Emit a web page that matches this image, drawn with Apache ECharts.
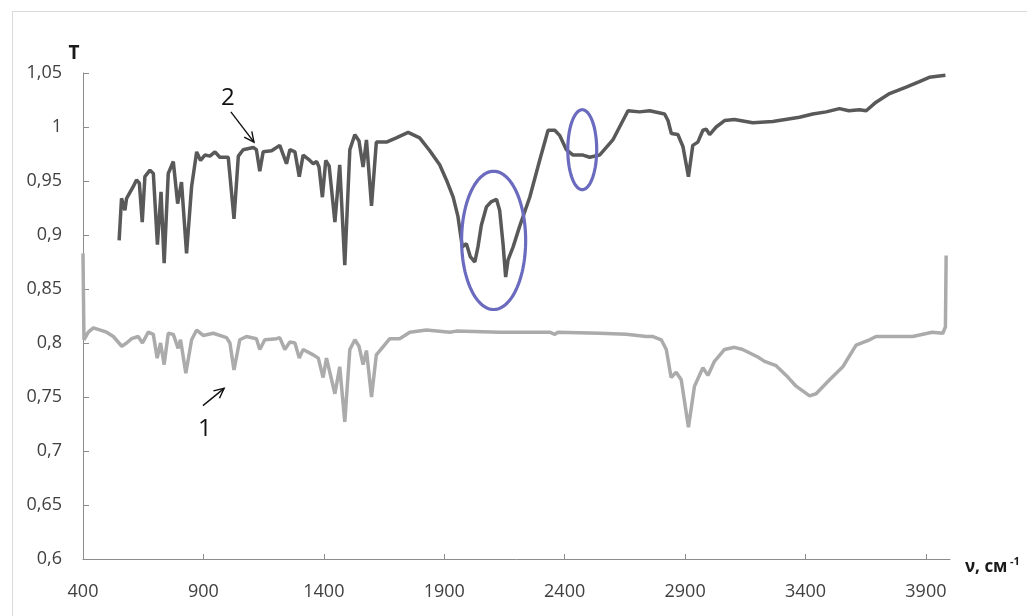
<!DOCTYPE html>
<html>
<head>
<meta charset="utf-8">
<script src="https://cdn.jsdelivr.net/npm/echarts@6/dist/echarts.min.js"></script>
<style>
html,body{margin:0;padding:0;background:#fff;}
#chart{width:1027px;height:616px;}
</style>
</head>
<body>
<div id="chart"></div>
<script>
// Spectrum 2 (dark curve): wavenumber, cm-1 and transmittance
const wavenumber2 = [550,560,574,581,609,622,634,646,657,678,692,709,724,737,754,775,793,809,830,851,872,888,906,927,948,968,1003,1027,1045,1065,1107,1120,1134,1148,1183,1217,1245,1259,1280,1298,1314,1342,1356,1370,1380,1394,1408,1422,1446,1466,1487,1508,1529,1546,1563,1577,1598,1618,1660,1701,1750,1798,1840,1881,1909,1937,1957,1975,1992,2008,2027,2040,2054,2075,2096,2117,2130,2144,2155,2165,2186,2213,2255,2296,2331,2359,2380,2407,2435,2476,2504,2545,2600,2628,2663,2711,2753,2815,2829,2843,2870,2891,2914,2932,2953,2974,2988,3002,3029,3064,3105,3181,3264,3375,3430,3486,3541,3580,3624,3652,3693,3749,3818,3873,3914,3981];
const transmit2 = [0.895,0.934,0.923,0.934,0.945,0.951,0.948,0.912,0.954,0.960,0.957,0.891,0.940,0.874,0.957,0.968,0.929,0.949,0.883,0.945,0.977,0.969,0.974,0.973,0.977,0.972,0.972,0.915,0.973,0.979,0.981,0.979,0.959,0.977,0.978,0.983,0.966,0.979,0.977,0.954,0.974,0.969,0.966,0.968,0.963,0.935,0.969,0.964,0.912,0.965,0.872,0.979,0.993,0.987,0.963,0.988,0.927,0.986,0.986,0.990,0.995,0.990,0.978,0.965,0.951,0.935,0.917,0.889,0.892,0.880,0.875,0.889,0.909,0.926,0.931,0.933,0.923,0.892,0.861,0.877,0.889,0.908,0.935,0.969,0.997,0.997,0.992,0.979,0.974,0.974,0.972,0.974,0.988,1.000,1.015,1.014,1.015,1.012,1.006,0.994,0.993,0.982,0.954,0.983,0.986,0.997,0.998,0.993,1.000,1.006,1.007,1.004,1.005,1.009,1.012,1.014,1.017,1.015,1.016,1.015,1.023,1.031,1.037,1.042,1.046,1.048];

// Spectrum 1 (light curve)
const wavenumber1 = [400,404,422,443,498,526,561,581,602,629,647,671,692,708,722,737,754,775,795,805,827,851,872,899,941,996,1010,1027,1051,1079,1120,1134,1155,1204,1217,1238,1259,1280,1298,1314,1356,1377,1397,1411,1446,1466,1487,1508,1529,1546,1563,1577,1598,1618,1674,1715,1757,1826,1923,1950,2130,2338,2359,2372,2545,2656,2739,2767,2801,2822,2842,2863,2884,2914,2939,2974,2995,3022,3064,3105,3139,3202,3230,3278,3320,3361,3417,3444,3500,3555,3610,3666,3693,3762,3845,3926,3970,3981,3984];
const transmit1 = [0.883,0.803,0.810,0.814,0.810,0.806,0.797,0.800,0.804,0.806,0.800,0.810,0.808,0.786,0.800,0.780,0.809,0.808,0.795,0.803,0.772,0.803,0.812,0.807,0.809,0.805,0.800,0.775,0.803,0.806,0.804,0.794,0.803,0.804,0.805,0.794,0.801,0.800,0.786,0.794,0.789,0.786,0.768,0.786,0.753,0.778,0.727,0.794,0.803,0.797,0.780,0.793,0.750,0.789,0.804,0.804,0.810,0.812,0.810,0.811,0.810,0.810,0.808,0.810,0.809,0.808,0.806,0.806,0.803,0.794,0.768,0.773,0.766,0.722,0.760,0.777,0.770,0.783,0.794,0.796,0.794,0.787,0.783,0.779,0.770,0.760,0.751,0.753,0.766,0.778,0.798,0.803,0.806,0.806,0.806,0.810,0.809,0.815,0.881];

// Axis ticks
const xTickLabels = [400,900,1400,1900,2400,2900,3400,3900];
const yTickValues = [0.6,0.65,0.7,0.75,0.8,0.85,0.9,0.95,1,1.05];

// Highlighted regions: centre (wavenumber, T) and half-widths
const ellipseCx = [2105, 2473];
const ellipseCy = [0.895, 0.979];
const ellipseRx = [133, 60];
const ellipseRy = [0.064, 0.037];

// Curve markers: label position and arrow from -> to
const markerText = ['2', '1'];
const markerPos = [[1002, 1.027], [906, 0.720]];
const arrowFrom = [[1014, 1.014], [898, 0.742]];
const arrowTo = [[1110, 0.986], [986, 0.758]];

const zip = (xs, ys) => xs.map((x, i) => [x, ys[i]]);
const fmt = v => String(+(+v).toFixed(2)).replace('.', ',');
const FONT = "'Open Sans', 'Liberation Sans', sans-serif";

const chart = echarts.init(document.getElementById('chart'), null, {renderer: 'canvas'});

chart.setOption({
  animation: false,
  backgroundColor: '#fff',
  grid: {left: 83, right: 77, top: 73, bottom: 57},
  xAxis: {
    type: 'value', min: 400, max: 4000, interval: 500,
    axisLine: {show: true, lineStyle: {color: '#8c8c8c', width: 1}},
    axisTick: {show: true, inside: true, length: 5, lineStyle: {color: '#8c8c8c'},
      customValues: xTickLabels.slice(1)},
    axisLabel: {customValues: xTickLabels, margin: 24, color: '#404040',
      fontFamily: FONT, fontSize: 18, formatter: v => String(v)},
    splitLine: {show: false}
  },
  yAxis: {
    type: 'value', min: 0.6, max: 1.05, interval: 0.05,
    axisLine: {show: true, lineStyle: {color: '#8c8c8c', width: 1}},
    axisTick: {show: true, inside: true, length: 6, lineStyle: {color: '#8c8c8c'},
      customValues: yTickValues},
    axisLabel: {customValues: yTickValues, margin: 21, color: '#404040',
      fontFamily: FONT, fontSize: 18, formatter: fmt},
    splitLine: {show: false}
  },
  graphic: [
    {type: 'rect', left: 10, top: 9, shape: {width: 1040, height: 640},
      style: {fill: 'none', stroke: '#d9d9d9', lineWidth: 1}, silent: true, z: -10},
    {type: 'text', x: 74, y: 54,
      style: {text: 'T', font: "bold 19px " + FONT, fill: '#1a1a1a', align: 'center', verticalAlign: 'middle'}},
    {type: 'text', x: 965, y: 567,
      style: {text: 'ν, см', font: "bold 17px " + FONT, fill: '#1a1a1a', align: 'left', verticalAlign: 'middle'}},
    {type: 'text', x: 1010, y: 562,
      style: {text: '-1', font: "bold 11px " + FONT, fill: '#1a1a1a', align: 'left', verticalAlign: 'middle'}}
  ],
  series: [
    {
      name: '1', type: 'line', data: zip(wavenumber1, transmit1),
      showSymbol: false, lineStyle: {color: '#ababab', width: 3.5}, z: 2
    },
    {
      name: '2', type: 'line', data: zip(wavenumber2, transmit2),
      showSymbol: false, lineStyle: {color: '#595959', width: 3.5}, z: 3
    },
    {
      name: 'regions', type: 'custom', clip: false, z: 5,
      data: ellipseCx.map((cx, i) => [cx, ellipseCy[i], ellipseRx[i], ellipseRy[i]]),
      encode: {x: 0, y: 1},
      renderItem: (params, api) => {
        const c = api.coord([api.value(0), api.value(1)]);
        const s = api.size([api.value(2), api.value(3)]);
        const pts = [];
        for (let k = 0; k < 120; k++) {
          const a = k / 120 * Math.PI * 2;
          pts.push([c[0] + s[0] * Math.cos(a), c[1] + s[1] * Math.sin(a)]);
        }
        return {type: 'polygon', shape: {points: pts},
          style: {fill: 'none', stroke: '#6a6abf', lineWidth: 3.2}};
      }
    },
    {
      name: 'markers', type: 'custom', clip: false, z: 6,
      data: markerText.map((t, i) => [arrowFrom[i][0], arrowFrom[i][1], arrowTo[i][0], arrowTo[i][1], markerPos[i][0], markerPos[i][1]]),
      encode: {x: [0, 2, 4], y: [1, 3, 5]},
      renderItem: (params, api) => {
        const p1 = api.coord([api.value(0), api.value(1)]);
        const p2 = api.coord([api.value(2), api.value(3)]);
        const pl = api.coord([api.value(4), api.value(5)]);
        const ang = Math.atan2(p2[1] - p1[1], p2[0] - p1[0]);
        const h = 11, spread = 0.45;
        const stroke = {stroke: '#111', lineWidth: 1.4, fill: 'none'};
        return {
          type: 'group',
          children: [
            {type: 'line', shape: {x1: p1[0], y1: p1[1], x2: p2[0], y2: p2[1]}, style: stroke},
            {type: 'polyline', shape: {points: [
              [p2[0] - h * Math.cos(ang - spread), p2[1] - h * Math.sin(ang - spread)],
              p2,
              [p2[0] - h * Math.cos(ang + spread), p2[1] - h * Math.sin(ang + spread)]
            ]}, style: stroke},
            {type: 'text', x: pl[0], y: pl[1],
              style: {text: markerText[params.dataIndex], font: "24px " + FONT,
                fill: '#111', align: 'center', verticalAlign: 'middle'}}
          ]
        };
      }
    }
  ]
});
</script>
</body>
</html>
